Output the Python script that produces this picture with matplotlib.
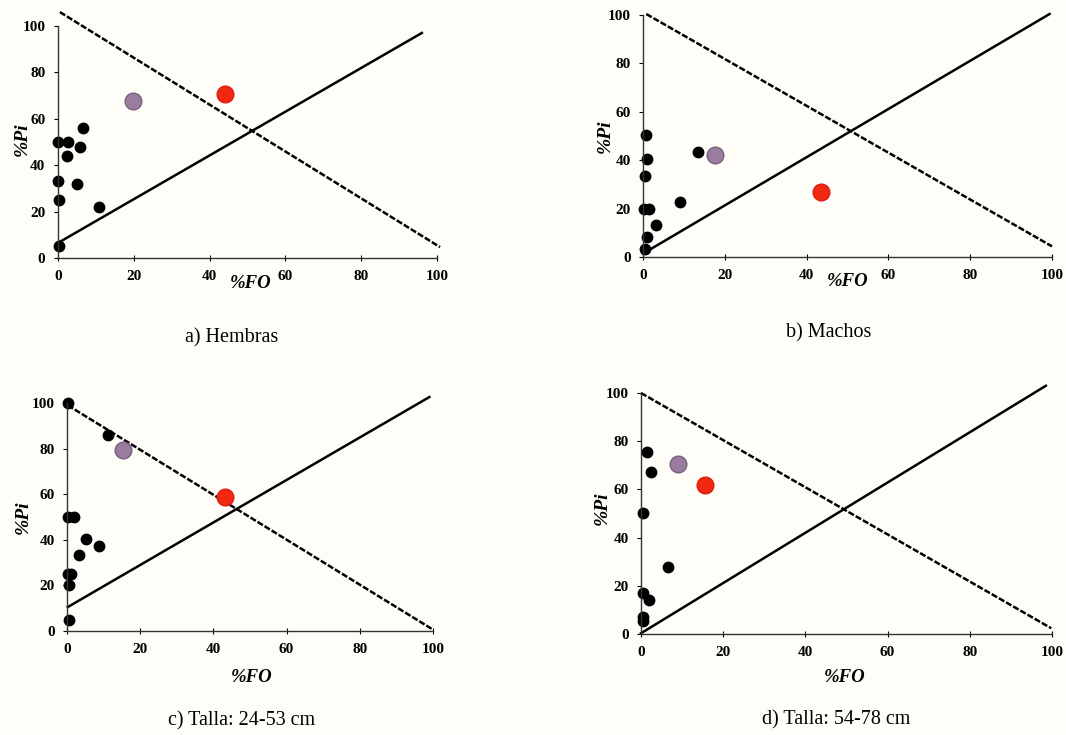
import matplotlib.pyplot as plt

plt.rcParams['font.family'] = ['Liberation Serif', 'DejaVu Serif']

# a) Hembras
fo_a = [0, 2.6, 0, 0.3, 0.3, 2.5, 5.7, 6.6, 4.9, 10.8]
pi_a = [50, 50, 33, 25, 5, 44, 48, 56, 32, 22]
purple_a = (19.8, 67.5)
red_a = (44.1, 70.7)
desc_a = ([0.5, 100.8], [106, 4.7])
asc_a = ([0, 96], [6.5, 97])

# b) Machos
fo_b = [0.8, 1.1, 0.6, 0.3, 1.4, 1.1, 0.6, 3.3, 9.0, 13.4]
pi_b = [50.3, 40.3, 33.5, 20, 20, 8.3, 3.4, 13.1, 22.8, 43.4]
purple_b = (17.5, 42.1)
red_b = (43.6, 26.9)
desc_b = ([0.8, 100], [100.4, 4.4])
asc_b = ([0, 99.4], [1.4, 100.4])

# c) Talla: 24-53 cm
fo_c = [0.4, 11.1, 0.2, 2.0, 0.2, 1.1, 0.5, 0.5, 3.2, 5.2, 8.8]
pi_c = [100, 85.8, 50, 50, 25, 25, 20, 4.7, 33.2, 40.5, 37.3]
purple_c = (15.2, 79.2)
red_c = (43.2, 58.8)
desc_c = ([0.2, 100], [99, 0.6])
asc_c = ([0.2, 99], [10.5, 102.6])

# d) Talla: 54-78 cm
fo_d = [1.5, 2.4, 0.6, 6.5, 0.4, 1.9, 0.6, 0.4]
pi_d = [75.5, 67.2, 50.4, 27.7, 17.2, 14.1, 6.9, 5.5]
purple_d = (9.1, 70.5)
red_d = (15.5, 61.8)
desc_d = ([0, 99.8], [100, 2.4])
asc_d = ([0, 98.5], [0.3, 103])

ticks = [0, 20, 40, 60, 80, 100]

W, H = 1066, 735


def add_panel(fig, box, fo, pi, purple, red, desc, asc, caption, cap_xy, xl_pos, yl_pos):
    x0, y0, x1, y1 = box
    ax = fig.add_axes([x0 / W, 1 - y1 / H, (x1 - x0) / W, (y1 - y0) / H])
    ax.set_facecolor('none')
    ax.set_xlim(0, 100)
    ax.set_ylim(0, 100)
    for s in ['top', 'right']:
        ax.spines[s].set_visible(False)
    for s in ['left', 'bottom']:
        ax.spines[s].set_color('#333333')
        ax.spines[s].set_linewidth(1.0)
    ax.set_xticks(ticks)
    ax.set_yticks(ticks)
    ax.tick_params(axis='x', direction='inout', length=5, pad=6, labelsize=11)
    ax.tick_params(axis='y', direction='out', length=3, pad=6, labelsize=11)
    for lab in ax.get_xticklabels() + ax.get_yticklabels():
        lab.set_fontweight('bold')

    ax.plot(desc[0], desc[1], color='black', lw=1.8, ls=(0, (2.5, 0.8)), clip_on=False)
    ax.plot(asc[0], asc[1], color='black', lw=1.8, clip_on=False)

    ax.plot(fo, pi, 'o', color='black', ms=7.5, clip_on=False)
    ax.plot(purple[0], purple[1], 'o', color='#9a7c9f', mec='#7a5f80', ms=12, clip_on=False)
    ax.plot(red[0], red[1], 'o', color='#f02a10', mec='#e01a10', ms=12, clip_on=False)

    ax.text(xl_pos[0], xl_pos[1], '%FO', transform=ax.transAxes, ha='center', va='center',
            fontsize=13.5, fontweight='bold', fontstyle='italic')
    ax.text(yl_pos[0], yl_pos[1], '%Pi', transform=ax.transAxes, ha='center', va='center',
            fontsize=14, fontweight='bold', fontstyle='italic', rotation=90)
    fig.text(cap_xy[0] / W, 1 - cap_xy[1] / H, caption, ha='center', va='center', fontsize=14.5)
    return ax


fig = plt.figure(figsize=(W / 100, H / 100), dpi=100, facecolor='#fefdf8')

add_panel(fig, (58, 26, 437, 258), fo_a, pi_a, purple_a, red_a, desc_a, asc_a,
          'a) Hembras', (232, 338), (0.507, -0.108), (-0.095, 0.51))
add_panel(fig, (643, 15, 1052, 257), fo_b, pi_b, purple_b, red_b, desc_b, asc_b,
          'b) Machos', (829, 333), (0.5, -0.103), (-0.093, 0.5))
add_panel(fig, (67, 403, 433, 631), fo_c, pi_c, purple_c, red_c, desc_c, asc_c,
          'c) Talla: 24-53 cm', (242, 721), (0.505, -0.206), (-0.12, 0.5))
add_panel(fig, (641, 393, 1052, 634), fo_d, pi_d, purple_d, red_d, desc_d, asc_d,
          'd) Talla: 54-78 cm', (836, 720), (0.496, -0.18), (-0.095, 0.52))

plt.savefig('out.png', dpi=100, facecolor=fig.get_facecolor())
plt.close()
